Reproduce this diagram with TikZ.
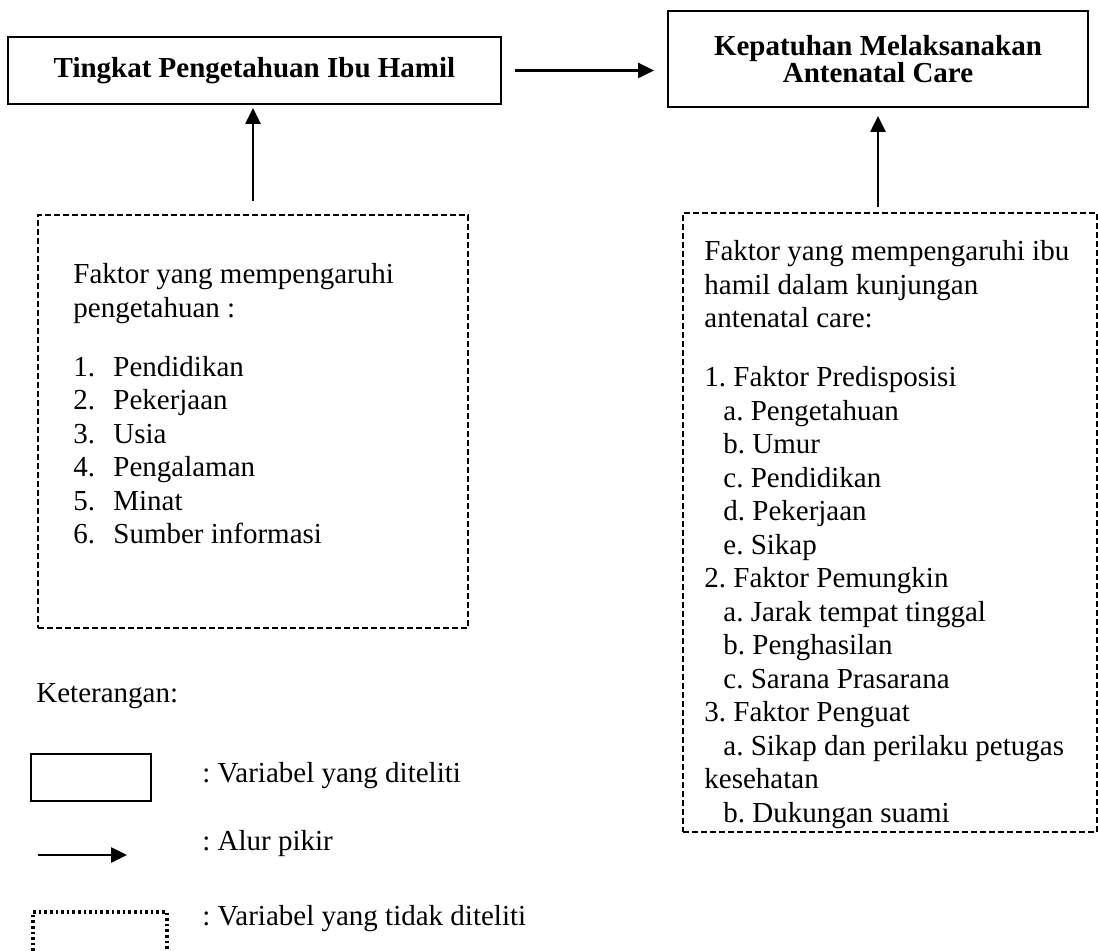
\documentclass[tikz,border=0pt]{standalone}
\usepackage{fontspec}
\setmainfont{Liberation Serif}
\usetikzlibrary{arrows.meta}
\tikzset{
  varbox/.style= {draw, line width=1pt, inner sep=0, align=center, font=\bfseries\fontsize{14.5}{13.5}\selectfont},
  faktorbox/.style= {draw, line width=1.1pt, dash pattern=on 3pt off 1.5pt, inner sep=0},
  txt/.style= {inner sep=0, align=left, font=\frenchspacing\fontsize{14.5}{16.75}\selectfont},
  alur/.style= {line width=1.3pt, -{Triangle[length=8pt,width=7.5pt]}},
}

\begin{document}
\begin{tikzpicture}[x=0.5pt, y=-0.5pt]
  \useasboundingbox (0,0) rectangle (1098,951);
  % variabel yang diteliti
  \node [varbox, minimum width=246.5pt, minimum height=33.5pt] (tingkat) at (254.5,70.5) {Tingkat Pengetahuan Ibu Hamil};
  \node [varbox, minimum width=210pt, minimum height=48pt] (patuh) at (878,59) {Kepatuhan Melaksanakan\\Antenatal Care};
  % variabel yang tidak diteliti
  \node [faktorbox, minimum width=215pt, minimum height=206.5pt] (fpeng) at (253,421.5) {};
  \node [faktorbox, minimum width=207pt, minimum height=309.5pt] (fanc) at (890,522.5) {};
  \node [txt, anchor=north west] (fpengtxt) at (73,263) {Faktor yang mempengaruhi\\pengetahuan :\\[12.75pt]
    \makebox[20pt][l]{1.}Pendidikan\\
    \makebox[20pt][l]{2.}Pekerjaan\\
    \makebox[20pt][l]{3.}Usia\\
    \makebox[20pt][l]{4.}Pengalaman\\
    \makebox[20pt][l]{5.}Minat\\
    \makebox[20pt][l]{6.}Sumber informasi};
  \node [txt, anchor=north west] (fanctxt) at (704,240) {Faktor yang mempengaruhi ibu\\hamil dalam kunjungan\\antenatal care:\\[12.75pt]
    1. Faktor Predisposisi\\
    \hspace*{9.5pt}a. Pengetahuan\\
    \hspace*{9.5pt}b. Umur\\
    \hspace*{9.5pt}c. Pendidikan\\
    \hspace*{9.5pt}d. Pekerjaan\\
    \hspace*{9.5pt}e. Sikap\\
    2. Faktor Pemungkin\\
    \hspace*{9.5pt}a. Jarak tempat tinggal\\
    \hspace*{9.5pt}b. Penghasilan\\
    \hspace*{9.5pt}c. Sarana Prasarana\\
    3. Faktor Penguat\\
    \hspace*{9.5pt}a. Sikap dan perilaku petugas\\
    kesehatan\\
    \hspace*{9.5pt}b. Dukungan suami};
  % alur pikir
  \draw [alur] ([xshift=6.5pt]tingkat.east) -- ([xshift=-6.5pt]tingkat.east -| patuh.west);
  \draw [alur] ([yshift=6.5pt]fpeng.north) -- ([yshift=-1.5pt]fpeng.north |- tingkat.south);
  \draw [alur] ([yshift=2.5pt]patuh.south |- fanc.north) -- ([yshift=-4pt]patuh.south);
  % keterangan
  \node [txt, anchor=base west] (ket) at (36,703) {Keterangan:};
  \node [draw, line width=1pt, minimum width=60pt, minimum height=23.5pt] (legvar) at (91,777.5) {};
  \node [txt, anchor=base west] (legvartxt) at (202,783) {: Variabel yang diteliti};
  \coordinate (legalurA) at (38,855);
  \coordinate (legalurB) at (127,855);
  \draw [alur] (legalurA) -- (legalurB);
  \node [txt, anchor=base west] (legalurtxt) at (202,850) {: Alur pikir};
  \draw [line width=1.6pt, dash pattern=on 1.3pt off 1.5pt] (33,951) -- (33,912) -- (167,912) -- (167,951);
  \node [txt, anchor=base west] (legtidaktxt) at (202,925) {: Variabel yang tidak diteliti};
\end{tikzpicture}
\end{document}
